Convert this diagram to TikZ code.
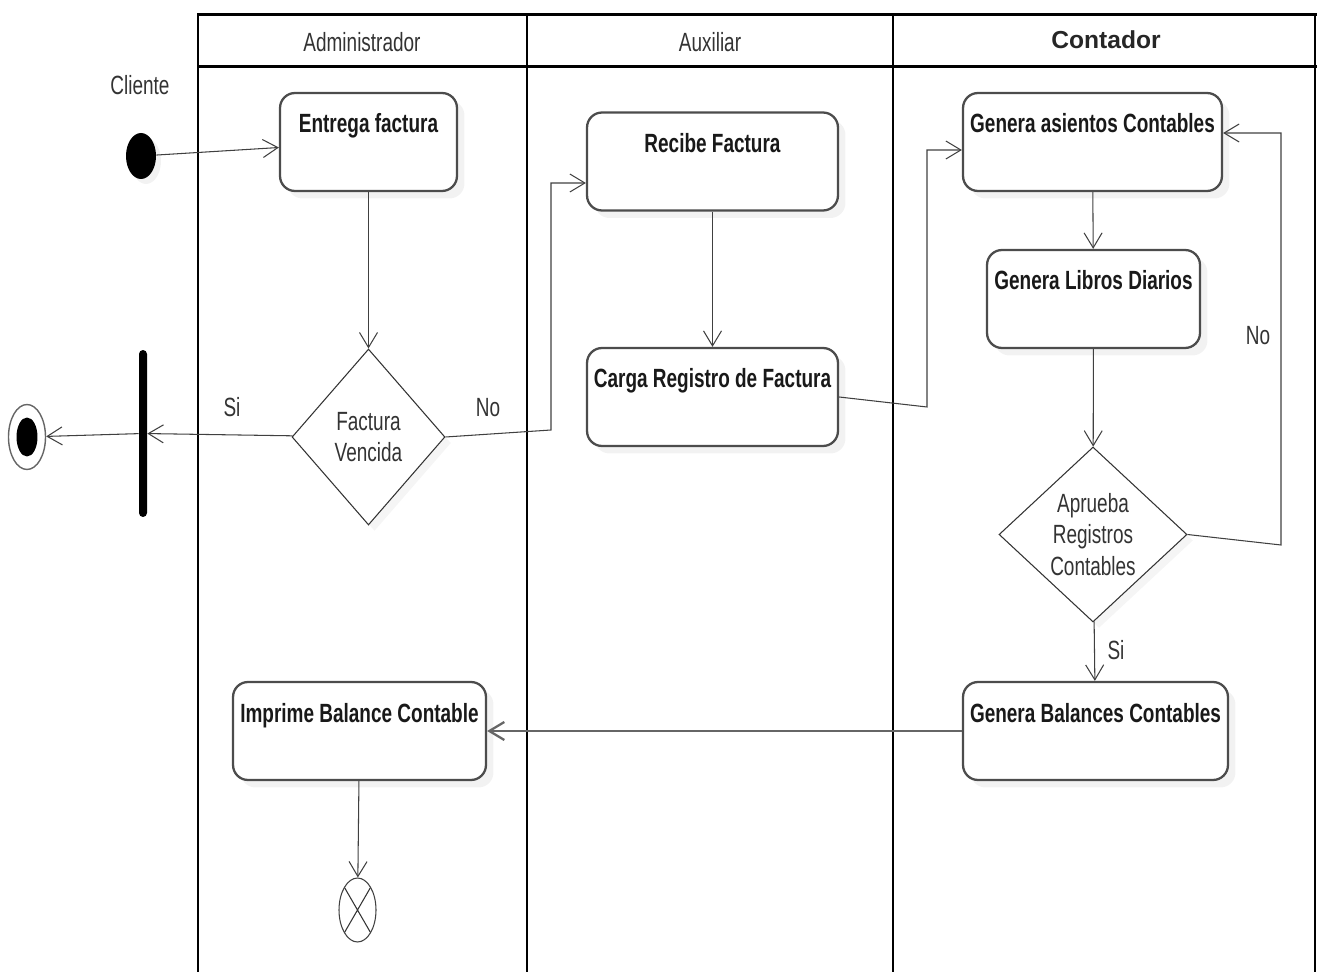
\documentclass[tikz,border=0pt]{standalone}
\usepackage{fontspec}
\setmainfont{Liberation Sans}
\newfontfamily\narrowfont[FakeStretch=0.72]{Liberation Sans}
\usetikzlibrary{shapes.geometric,arrows.meta,shadows}

\begin{document}
\begin{tikzpicture}[x=0.02cm, y=-0.02cm, >={Straight Barb[length=3mm,width=3.6mm]},
    line/.style={draw=black!75, line width=0.6pt},
    action/.style={rectangle, rounded corners=0.3cm, draw=black!70, line width=1.3pt, fill=white, inner ysep=0pt, text height=0.8cm, text depth=1.16cm, text=black!90, font=\narrowfont\bfseries\fontsize{15}{17}\selectfont, drop shadow={shadow xshift=0.15cm, shadow yshift=-0.15cm, opacity=0.1}},
    decision/.style={diamond, draw=black!80, line width=0.6pt, fill=white, inner sep=0pt, align=center, text=black!80, font=\narrowfont\fontsize{15}{18}\selectfont, drop shadow={shadow xshift=0.12cm, shadow yshift=-0.12cm, opacity=0.08}},
    tag/.style={text=black!80, font=\narrowfont\fontsize{15}{17}\selectfont},
    fork/.style={rectangle, fill=black, inner sep=0pt, minimum width=0.16cm, minimum height=3.34cm, rounded corners=0.08cm},
    start/.style={ellipse, fill=black, inner sep=0pt, minimum width=0.6cm, minimum height=0.92cm, drop shadow={shadow xshift=0.1cm, shadow yshift=-0.1cm, opacity=0.1}},
    stop/.style={ellipse, draw=black!60, line width=0.8pt, fill=white, inner sep=0pt, minimum width=0.74cm, minimum height=1.3cm, path picture={\fill[black] (path picture bounding box.center) ellipse (0.21cm and 0.39cm);}},
    flowstop/.style={ellipse, draw=black!75, line width=0.6pt, fill=white, inner sep=0pt, minimum width=0.74cm, minimum height=1.28cm, path picture={\draw[black!80] (path picture bounding box.north west) -- (path picture bounding box.south east) (path picture bounding box.north east) -- (path picture bounding box.south west);}}]

    \useasboundingbox (0,0) rectangle (1317,972);

    \draw[line width=1.7pt] (197,15) -- (1317,15) (197,67) -- (1317,67);
    \draw[line width=1.1pt] (198,15) -- (198,972) (527,15) -- (527,972) (893,15) -- (893,972) (1315,15) -- (1315,972);

    \node[tag] (hadmin) at (362,42) {Administrador};
    \node[tag] (haux) at (710,42) {Auxiliar};
    \node[text=black!85, font=\bfseries\fontsize{14}{16}\selectfont] (hcont) at (1106,40) {Contador};

    \node[tag] (cliente) at (140,85) {Cliente};
    \node[start] (inicio) at (141,156) {};
    \node[stop] (fin) at (27,437) {};
    \node[fork] (barra) at (143,433.5) {};

    \node[action, minimum width=3.54cm] (entrega) at (368.5,142) {Entrega factura};
    \node[decision, minimum width=3.06cm, minimum height=3.52cm] (vencida) at (368.5,437) {Factura\\Vencida};
    \node[action, minimum width=5.06cm] (imprime) at (359.5,731) {Imprime Balance Contable};
    \node[flowstop] (finflujo) at (357.5,910) {};

    \node[action, minimum width=5.02cm] (recibe) at (712.5,161.5) {Recibe Factura};
    \node[action, minimum width=5.02cm] (carga) at (712.5,397) {Carga Registro de Factura};

    \node[action, minimum width=5.18cm] (asientos) at (1092.5,142) {Genera asientos Contables};
    \node[action, minimum width=4.26cm] (libros) at (1093.5,299) {Genera Libros Diarios};
    \node[decision, minimum width=3.76cm, minimum height=3.5cm] (aprueba) at (1093,534.5) {Aprueba\\Registros\\Contables};
    \node[action, minimum width=5.3cm] (balances) at (1095.5,731) {Genera Balances Contables};

    \node[tag] (lsi1) at (232,407) {Si};
    \node[tag] (lno1) at (488,408) {No};
    \node[tag] (lno2) at (1258,336) {No};
    \node[tag] (lsi2) at (1116,650) {Si};

    \draw[->, line] (inicio) -- (entrega);
    \draw[->, line] (entrega) -- (vencida);
    \draw[->, line] (vencida) -- (barra);
    \draw[->, line] (barra) -- (fin);
    \draw[->, line] (vencida.east) -- (551,430) -- (551,183) -- (551,183 -| recibe.west);
    \draw[->, line] (recibe) -- (carga);
    \draw[->, line] (carga.east) -- (927,407) -- (927,150) -- (927,150 -| asientos.west);
    \draw[->, line] (asientos) -- (libros);
    \draw[->, line] (libros) -- (aprueba);
    \draw[->, line] (aprueba.east) -- (1281,545) -- (1281,133) -- (1281,133 -| asientos.east);
    \draw[->, line] (aprueba) -- (balances);
    \draw[->, line, draw=black!60, line width=1.3pt] (balances) -- (imprime);
    \draw[->, line] (imprime) -- (finflujo);
\end{tikzpicture}
\end{document}
